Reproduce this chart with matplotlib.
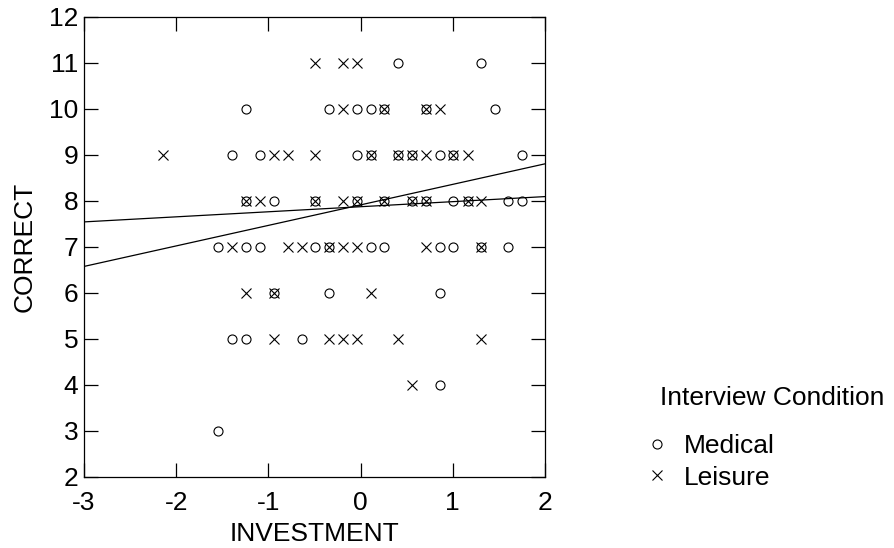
import numpy as np
import matplotlib.pyplot as plt

plt.rcParams['font.family'] = ['Liberation Sans', 'DejaVu Sans']
plt.rcParams['axes.unicode_minus'] = False

# INVESTMENT / CORRECT scores by interview condition
medical_x = [0.402, 1.306,
             -1.243, -0.343, -0.042, 0.109, 0.257, 0.709, 1.458,
             -1.39, -1.09, -0.042, 0.109, 0.409, 0.561, 0.861, 1.006, 1.754,
             -1.24, -0.94, -0.495, -0.042, 0.257, 0.561, 0.709, 1.006, 1.16, 1.602, 1.754,
             -1.543, -1.24, -1.09, -0.495, -0.343, 0.109, 0.257, 0.861, 1.006, 1.306, 1.602,
             -0.94, -0.343, 0.861,
             -1.39, -1.24, -0.64,
             0.861,
             -1.543]
medical_y = [11, 11,
             10, 10, 10, 10, 10, 10, 10,
             9, 9, 9, 9, 9, 9, 9, 9, 9,
             8, 8, 8, 8, 8, 8, 8, 8, 8, 8, 8,
             7, 7, 7, 7, 7, 7, 7, 7, 7, 7, 7,
             6, 6, 6,
             5, 5, 5,
             4,
             3]

leisure_x = [-0.495, -0.194, -0.042,
             -0.194, 0.257, 0.709, 0.861,
             -2.14, -0.94, -0.79, -0.495, 0.109, 0.409, 0.561, 0.709, 1.006, 1.16,
             -1.24, -1.09, -0.495, -0.194, -0.042, 0.257, 0.561, 0.709, 1.16, 1.306,
             -1.39, -0.79, -0.64, -0.343, -0.194, -0.042, 0.709, 1.306,
             -1.243, -0.94, 0.109,
             -0.94, -0.343, -0.194, -0.042, 0.409, 1.306,
             0.561]
leisure_y = [11, 11, 11,
             10, 10, 10, 10,
             9, 9, 9, 9, 9, 9, 9, 9, 9, 9,
             8, 8, 8, 8, 8, 8, 8, 8, 8, 8,
             7, 7, 7, 7, 7, 7, 7, 7,
             6, 6, 6,
             5, 5, 5, 5, 5, 5,
             4]

# regression lines (intercept, slope) for each condition
medical_fit = [7.91, 0.446]
leisure_fit = [7.87, 0.110]

fig = plt.figure(figsize=(8.95, 5.48), dpi=100)
ax = fig.add_axes([0.0939, 0.130, 0.515, 0.8395])

ax.plot(medical_x, medical_y, 'o', mfc='none', mec='black', ms=6.5, mew=0.8,
        linestyle='none', label='Medical')
ax.plot(leisure_x, leisure_y, 'x', color='black', ms=6.5, mew=0.8,
        linestyle='none', label='Leisure')

# lines run across the whole x range
xl = np.array([-3, 2])
for a, b in [medical_fit, leisure_fit]:
    ax.plot(xl, a + b * xl, color='black', lw=0.9)

ax.set_xlim(-3, 2)
ax.set_ylim(2, 12)
ax.set_xticks(range(-3, 3))
ax.set_yticks(range(2, 13))
ax.tick_params(direction='in', length=10, width=0.9, labelsize=19,
               top=True, right=True)
ax.tick_params(axis='x', pad=10.5)
ax.tick_params(axis='y', pad=4)
for s in ax.spines.values():
    s.set_linewidth(0.9)
ax.set_xlabel('INVESTMENT', fontsize=19, labelpad=5)
ax.set_ylabel('CORRECT', fontsize=19, labelpad=9)

fig.text(0.7375, 0.261, 'Interview Condition', fontsize=19, va='baseline')
leg = ax.legend(loc='upper left',
                bbox_to_anchor=(0.7224, 0.2075), bbox_transform=fig.transFigure,
                frameon=False, fontsize=19, borderaxespad=0,
                handlelength=0.8, handletextpad=0.6, borderpad=0,
                labelspacing=0.28)

fig.savefig('out.png', dpi=100)
